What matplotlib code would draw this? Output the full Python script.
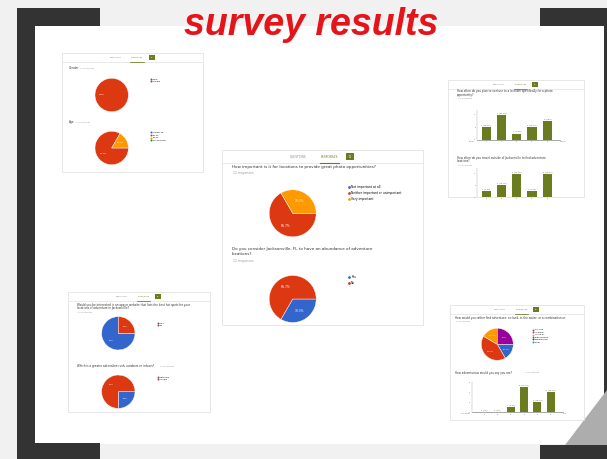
import matplotlib
matplotlib.use("Agg")
import matplotlib.pyplot as plt
from matplotlib.patches import Rectangle, Polygon
from matplotlib.lines import Line2D

W, H = 607, 459

slice_colors = ['#3366cc', '#dc3912', '#ff9900', '#109618', '#990099', '#0099c6']
bar_color = '#6b7b20'
frame_color = '#333333'

# survey answers
n_responses = 12
gender_labels = ['Male', 'Female']
gender_counts = [0, 12]
age_labels = ['Under 18', '18-24', '25-34', '35 and over']
age_counts = [0, 10, 2, 0]
photo_labels = ['Not important at all', 'Neither important or unimportant', 'Very important']
photo_counts = [0, 8, 4]
abundance_labels = ['Yes', 'No']
abundance_counts = [4, 8]
app_labels = ['Yes', 'No']
app_counts = [9, 3]
rush_labels = ['Outdoors', 'Indoors']
rush_counts = [3, 9]
setting_labels = ['On land', 'In water', 'In the air', 'Underground', 'Combination', 'Other']
setting_counts = [2, 5, 2, 0, 3, 0]
often_scale = ['1', '2', '3', '4', '5']
plan_counts = [2, 4, 1, 2, 3]
travel_counts = [1, 2, 4, 1, 4]
level_scale = ['1', '2', '3', '4', '5', '6']
level_counts = [0, 0, 1, 5, 2, 4]


def pct(p):
    return ('%.1f' % p).rstrip('0').rstrip('.') + '%'


def box(x, y, w, h):
    return [x / W, 1 - (y + h) / H, w / W, h / H]


fig = plt.figure(figsize=(W / 100, H / 100), dpi=100)
fig.patch.set_facecolor('#f1f1f1')

bg = fig.add_axes([0, 0, 1, 1])
bg.set_xlim(0, W)
bg.set_ylim(H, 0)
bg.axis('off')

# slide + dark frame corners
bg.add_patch(Rectangle((35, 26), 570, 418, facecolor='white', edgecolor='none'))
for r in [(17, 8, 83, 18), (17, 8, 18, 451), (17, 443, 83, 16),
          (540, 8, 67, 18), (540, 445, 67, 14), (604, 26, 3, 368)]:
    bg.add_patch(Rectangle(r[:2], r[2], r[3], facecolor=frame_color, edgecolor='none'))
bg.add_patch(Polygon([(607, 390), (607, 445), (565, 445)], facecolor='#adadad', edgecolor='none'))

bg.text(311, 35, 'survey results', fontsize=27, fontweight='bold', style='italic',
        family='Liberation Sans', color='#e5141a', ha='center', va='baseline')


def panel(x, y, w, h, s):
    bg.add_patch(Rectangle((x, y), w, h, facecolor='white', edgecolor='#dddddd', lw=0.5))
    cx = x + w / 2
    bg.plot([x, x + w], [y + 13 * s] * 2, color='#e2e2e2', lw=0.5)
    bg.text(cx - 24.5 * s, y + 6.7 * s, 'QUESTIONS', fontsize=2.1 * s, color='#888888',
            ha='center', va='center')
    bg.text(cx + 6.5 * s, y + 6.7 * s, 'RESPONSES', fontsize=2.1 * s, color=bar_color,
            ha='center', va='center')
    bg.plot([cx - 3 * s, cx + 16 * s], [y + 12.6 * s] * 2, color=bar_color, lw=0.8 * s)
    bg.add_patch(Rectangle((cx + 23.5 * s, y + 3.3 * s), 8 * s, 7 * s, facecolor=bar_color,
                           edgecolor='none'))
    bg.text(cx + 27.5 * s, y + 6.8 * s, str(n_responses), fontsize=1.9 * s, color='white',
            ha='center', va='center')


def question(x, y, lines, size, resp=None):
    for i, t in enumerate(lines):
        bg.text(x, y + i * size * 1.65, t, fontsize=size, color='#333333', va='center')
    if resp is not None:
        bg.text(resp[0], resp[1], '%d responses' % n_responses, fontsize=size * 0.75,
                color='#999999', va='center')


def pie(cx, cy, r, labels, counts, lx, ly, size, spacing):
    ax = fig.add_axes(box(cx - 1.25 * r, cy - 1.25 * r, 2.5 * r, 2.5 * r))
    vals = [c for c in counts if c > 0]
    cols = [slice_colors[i] for i, c in enumerate(counts) if c > 0]
    ax.pie(vals, colors=cols, startangle=0, counterclock=False, autopct=pct,
           pctdistance=0.6, textprops=dict(color='white', fontsize=size),
           wedgeprops=dict(edgecolor='white', linewidth=0.3))
    ax.set_xlim(-1.25, 1.25)
    ax.set_ylim(-1.25, 1.25)
    handles = [Line2D([], [], ls='', marker='o', markersize=size * 0.9,
                      markerfacecolor=slice_colors[i], markeredgewidth=0)
               for i in range(len(labels))]
    ax.legend(handles, labels, loc='upper left', bbox_to_anchor=(lx / W, 1 - ly / H),
              bbox_transform=fig.transFigure, frameon=False, fontsize=size,
              handlelength=0.8, handletextpad=0.4,
              labelspacing=spacing, borderpad=0, borderaxespad=0)


def bars(x0, x1, y0, y1, xlim, ylim, cats, counts, size, ends=None, base=True):
    ax = fig.add_axes(box(x0, y0, x1 - x0, y1 - y0))
    ax.patch.set_alpha(0)
    pos = list(range(1, len(counts) + 1))
    ax.bar(pos, counts, width=0.6, color=bar_color)
    total = sum(counts)
    for p, c in zip(pos, counts):
        ax.annotate('%d (%s)' % (c, pct(100 * c / total)), (p, c), xytext=(0, 0.8),
                    textcoords='offset points', ha='center', va='bottom',
                    fontsize=size, color='#555555')
    ax.set_xlim(*xlim)
    ax.set_ylim(*ylim)
    ax.set_xticks(pos)
    ax.set_xticklabels(cats)
    ax.set_yticks(range(0, int(ylim[1]) + 1, 2))
    ax.tick_params(length=0, pad=1, labelsize=size, colors='#666666')
    for k in ('top', 'right'):
        ax.spines[k].set_visible(False)
    ax.spines['left'].set(color='#aaaaaa', lw=0.3)
    ax.spines['bottom'].set(color='#666666', lw=0.4, visible=base)
    if ends:
        ax.text(xlim[0] - 0.15, -0.15, ends[0], ha='right', va='top', fontsize=size,
                color='#666666')
        ax.text(xlim[1], -0.15, ends[1], ha='left', va='top', fontsize=size,
                color='#666666')


# top-left screenshot
panel(62, 53, 141, 119, 0.7)
question(69, 68, ['Gender'], 2.1, resp=(80, 68))
pie(111.7, 95, 16.7, gender_labels, gender_counts, 150, 78, 1.6, 0.5)
question(69, 122, ['Age'], 2.1, resp=(76, 122))
pie(111.7, 148, 16.7, age_labels, age_counts, 150, 131.5, 1.6, 0.5)

# centre screenshot
panel(222, 150, 201, 175, 1.0)
question(231.7, 167.3, ['How important is it for locations to provide great photo opportunities?'],
         3.0, resp=(233, 172.7))
pie(292.7, 213.3, 23.5, photo_labels, photo_counts, 347.5, 185.2, 2.2, 0.63)
question(231.7, 249.3, ['Do you consider Jacksonville, FL to have an abundance of adventure',
                        'locations?'], 3.0, resp=(233, 261))
pie(292.7, 299, 23.5, abundance_labels, abundance_counts, 347.5, 275.2, 2.2, 0.63)

# top-right screenshot
panel(448, 80, 136, 117, 0.7)
question(456.7, 91.3, ['How often do you plan to venture to a location specifically for a photo',
                       'opportunity?'], 2.0, resp=(457.5, 98.7))
bars(477, 560, 110, 139.7, (0.4, 5.83), (0, 4.8), often_scale, plan_counts, 1.4,
     ends=('Never', 'Always'))
question(456.7, 158, ['How often do you travel outside of Jacksonville to find adventure',
                      'locations?'], 2.0, resp=(457.5, 165))
bars(477, 560, 168, 197, (0.4, 5.83), (0.3, 5.0), often_scale, travel_counts, 1.4, base=False)

# bottom-left screenshot
panel(68, 292, 142, 120, 0.7)
question(76.7, 305, ['Would you be interested in an app or website that lists the best hot spots for your',
                     'locations of adventure in Jacksonville?'], 2.0, resp=(77.5, 312.5))
pie(118.3, 333.3, 16.7, app_labels, app_counts, 157, 322, 1.6, 0.5)
question(76.7, 366, ['Which is a greater adrenaline rush, outdoors or indoors?'], 2.0,
         resp=(160, 366))
pie(118.3, 391.7, 16.7, rush_labels, rush_counts, 157, 376, 1.6, 0.5)

# bottom-right screenshot
panel(450, 305, 134, 115, 0.7)
question(455, 318.3, ['How would you rather find adventure: on land, in the water, or a combination or'],
         2.0, resp=(455.8, 321.9))
pie(497.3, 344.3, 16, setting_labels, setting_counts, 532.5, 329, 1.5, 0.47)
question(455, 372.7, ['How adventurous would you say you are?'], 2.0, resp=(525, 372.7))
bars(471.7, 563, 381.7, 412.3, (0.06, 6.92), (0, 6.1), level_scale, level_counts, 1.4,
     ends=('Not at all', 'Very'))

fig.savefig('out.png', dpi=100, facecolor=fig.get_facecolor())
